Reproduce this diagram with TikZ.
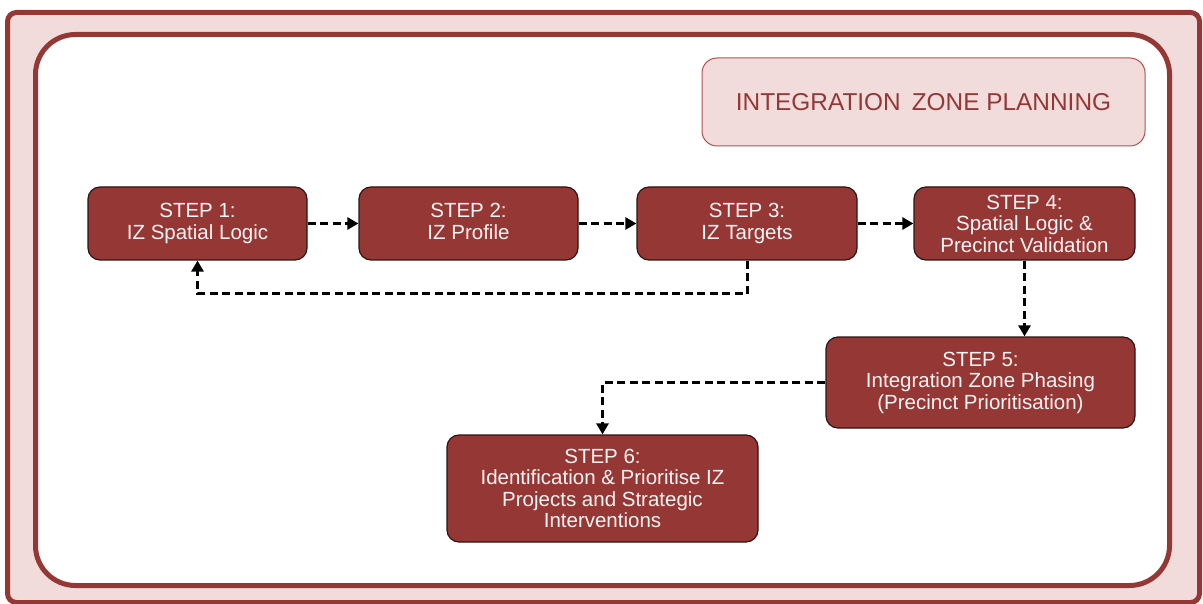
\documentclass[tikz,border=0pt]{standalone}
\usepackage{fontspec}
\setmainfont{Liberation Sans}
\usetikzlibrary{arrows.meta}
\definecolor{darkred}{HTML}{953735}
\definecolor{pinkbg}{HTML}{F2DCDB}
\definecolor{titleborder}{HTML}{B4524F}
\definecolor{boxborder}{HTML}{2E1414}
\definecolor{boxtext}{HTML}{FFF4F4}
\tikzset{
  stepbox/.style={draw=boxborder, line width=1.2pt, fill=darkred, rounded corners=12pt,
    text=boxtext, align=center, inner sep=0pt,
    font=\fontsize{20.5}{21.5}\selectfont},
  titlebox/.style={draw=titleborder, line width=1pt, fill=pinkbg, rounded corners=15pt,
    text=darkred, inner sep=0pt, font=\fontsize{24.4}{26}\selectfont},
  arr/.style={draw=black, line width=3pt, dash pattern=on 8pt off 4.5pt,
    -{Triangle[length=11pt,width=12pt]}}
}
\begin{document}
\begin{tikzpicture}[x=1pt,y=-1pt]
\useasboundingbox (0,0) rectangle (1203,604);
% outer frame
\draw[draw=darkred, fill=pinkbg, line width=5pt, rounded corners=9pt] (7.5,12.5) rectangle (1199.5,602.5);
% inner frame
\draw[draw=darkred, fill=white, line width=5pt, rounded corners=40pt] (35.5,34.5) rectangle (1169.5,585.5);
% title
\node[titlebox, minimum width=443pt, minimum height=88pt] (title) at (923.5,102) {INTEGRATION\hspace{0.45em}ZONE PLANNING};
% steps
\node[stepbox, minimum width=219pt, minimum height=73pt] (s1) at (197.5,223.5) {STEP 1:\\IZ Spatial Logic};
\node[stepbox, minimum width=219pt, minimum height=73pt] (s2) at (468.5,223.5) {STEP 2:\\IZ Profile\vphantom{g}};
\node[stepbox, minimum width=220pt, minimum height=73pt] (s3) at (747,223.5) {STEP 3:\\IZ Targets};
\node[stepbox, minimum width=221pt, minimum height=73pt] (s4) at (1024.5,223.5) {STEP 4:\\Spatial Logic \&\\Precinct Validation};
\node[stepbox, minimum width=309pt, minimum height=91pt] (s5) at (980.5,382.5) {STEP 5:\\Integration Zone Phasing\\(Precinct Prioritisation)};
\node[stepbox, minimum width=311pt, minimum height=107pt] (s6) at (602.5,488.5) {STEP 6:\\Identification \& Prioritise IZ\\Projects and Strategic\\Interventions};
% connectors
\draw[arr] (s1.east) -- (s2.west);
\draw[arr] (s2.east) -- (s3.west);
\draw[arr] (s3.east) -- (s4.west);
\draw[arr] (s3.south) -- ++(0,33) -| (s1.south);
\draw[arr] (s4.south) -- (s4.south |- s5.north);
\draw[arr] (s5.west) -| (s6.north);
\end{tikzpicture}
\end{document}
